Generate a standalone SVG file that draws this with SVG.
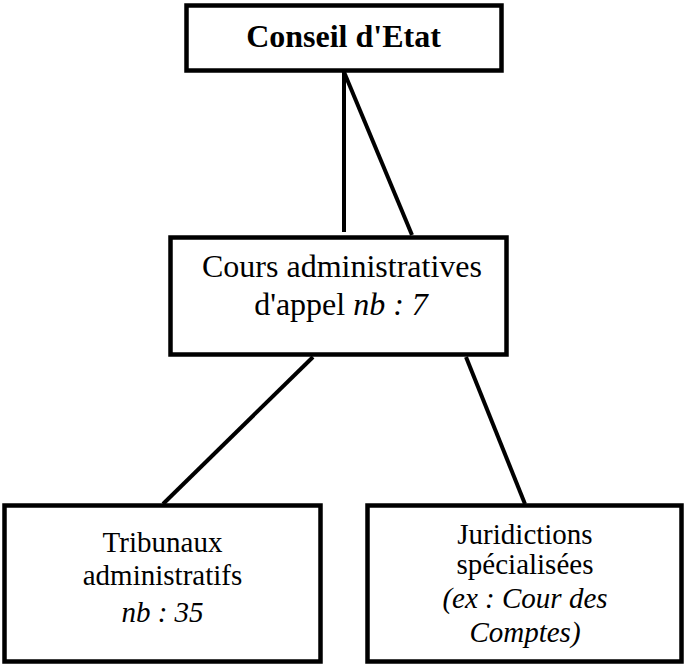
<svg xmlns="http://www.w3.org/2000/svg" width="684" height="664" viewBox="0 0 684 664">
<style>
.box{fill:#fff;stroke:#000;stroke-width:4.5}
.t{font-family:'Liberation Serif',Tinos,'Times New Roman','DejaVu Serif',serif;fill:#000;text-anchor:middle}
.i{font-style:italic}
.conn line{stroke:#000;stroke-width:4}
</style>
<rect width="684" height="664" fill="#fff"/>
<g class="conn" id="connectors">
<line x1="344" y1="72" x2="344" y2="232"/>
<line x1="344" y1="72" x2="412" y2="235"/>
<line x1="313" y1="357" x2="163" y2="504"/>
<line x1="466" y1="357" x2="525" y2="504"/>
</g>
<g id="conseil">
<rect class="box" x="186.5" y="5.5" width="315" height="65"/>
<text class="t" x="343.5" y="47" font-size="32" font-weight="bold">Conseil d'Etat</text>
</g>
<g id="cours">
<rect class="box" x="170.5" y="237.5" width="336" height="117"/>
<text class="t" x="342" y="277" font-size="32">Cours administratives</text>
<text class="t" x="341" y="315" font-size="32">d'appel <tspan class="i">nb : 7</tspan></text>
</g>
<g id="tribunaux">
<rect class="box" x="4.5" y="505.5" width="316" height="156"/>
<text class="t" x="162.5" y="552" font-size="29">Tribunaux</text>
<text class="t" x="162.5" y="585" font-size="29">administratifs</text>
<text class="t i" x="162.5" y="622" font-size="29">nb : 35</text>
</g>
<g id="juridictions">
<rect class="box" x="367.5" y="505.5" width="314" height="156"/>
<text class="t" x="525" y="544" font-size="29">Juridictions</text>
<text class="t" x="525" y="574" font-size="29">spécialisées</text>
<text class="t i" x="525" y="608" font-size="29">(ex : Cour des</text>
<text class="t i" x="525" y="642" font-size="29">Comptes)</text>
</g>
</svg>
